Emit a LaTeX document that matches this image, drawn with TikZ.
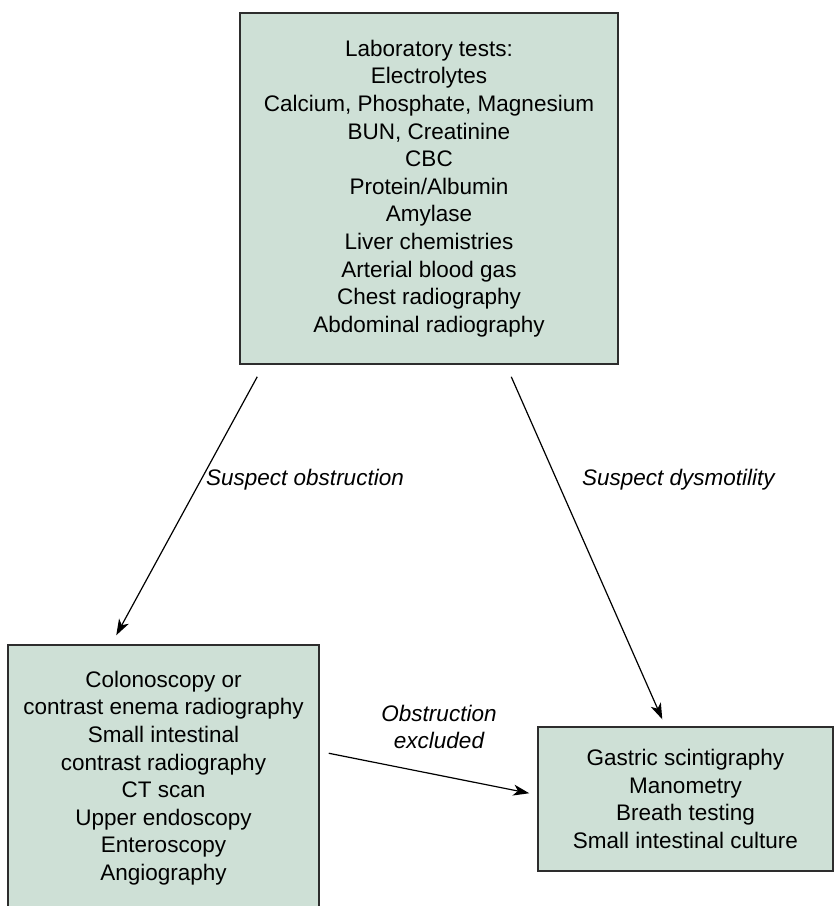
\documentclass[tikz,border=0pt]{standalone}
\usepackage{fontspec}
\setmainfont{Liberation Sans}
\usetikzlibrary{arrows.meta,calc}
\definecolor{boxfill}{RGB}{206,224,214}
\definecolor{boxline}{RGB}{45,45,45}
\tikzset{
  testbox/.style={draw=boxline, line width=1.5pt, fill=boxfill, align=center,
    inner sep=0pt, font=\fontsize{22.5}{27.6}\selectfont},
  flow/.style={line width=1.2pt, -{Stealth[length=16pt,width=11pt,inset=4.5pt]}},
  edgelabel/.style={font=\fontsize{22.5}{27.6}\selectfont\itshape, align=center, inner sep=0pt}
}
\begin{document}
\begin{tikzpicture}[x=1pt,y=-1pt]
\useasboundingbox (0,0) rectangle (835,906);
\clip (0,0) rectangle (835,906);

\node[testbox, minimum width=378, minimum height=351] (labs) at (429,188.5)
  {Laboratory tests:\\Electrolytes\\Calcium, Phosphate, Magnesium\\BUN, Creatinine\\CBC\\Protein/Albumin\\Amylase\\Liver chemistries\\Arterial blood gas\\Chest radiography\\Abdominal radiography};

\node[testbox, minimum width=311, minimum height=266] (obstr) at (163.5,778)
  {Colonoscopy or\\contrast enema radiography\\Small intestinal\\contrast radiography\\CT scan\\Upper endoscopy\\Enteroscopy\\Angiography};

\node[testbox, minimum width=295, minimum height=144] (motil) at (685.5,799)
  {Gastric scintigraphy\\Manometry\\Breath testing\\Small intestinal culture};

% free ends of the connectors, offset from the box edges
\coordinate (aStart) at ($(labs.south west)+(18,12)$);
\coordinate (aEnd)   at ($(obstr.north west)+(109,-9)$);
\coordinate (bStart) at ($(labs.south west)+(272,12)$);
\coordinate (bEnd)   at ($(motil.north west)+(125,-7)$);
\coordinate (cStart) at ($(obstr.north east)+(9,109)$);
\coordinate (cEnd)   at ($(motil.north west)+(-8,67)$);

\draw[flow] (aStart) -- (aEnd);
\draw[flow] (bStart) -- (bEnd);
\draw[flow] (cStart) -- (cEnd);

\node[edgelabel, anchor=west] (lblA) at (206,480) {Suspect obstruction};
\node[edgelabel, anchor=west] (lblB) at (582,480) {Suspect dysmotility};
\node[edgelabel] (lblC) at (439,727) {Obstruction\\excluded};
\end{tikzpicture}
\end{document}
